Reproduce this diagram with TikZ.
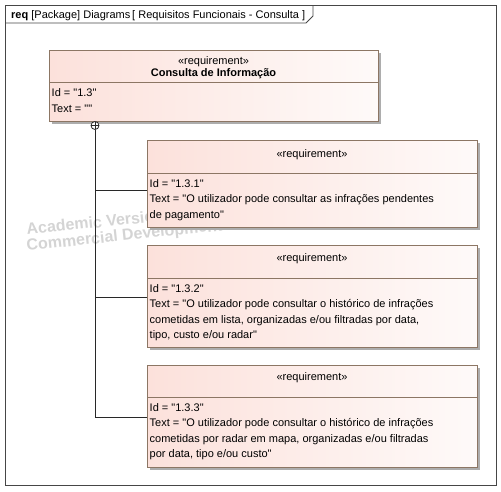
\documentclass[tikz,border=0pt]{standalone}
\usepackage{fontspec}
\setmainfont{Liberation Sans}[Ligatures=TeXOff]
\usetikzlibrary{shadows}
\definecolor{reqborder}{RGB}{140,118,100}
\definecolor{reqleft}{RGB}{252,225,219}
\definecolor{reqright}{RGB}{254,250,249}
\definecolor{framecol}{RGB}{70,70,70}
\definecolor{wmark}{RGB}{212,212,212}
\definecolor{conncol}{RGB}{40,40,40}
\begin{document}
\begin{tikzpicture}[x=1pt,y=-1pt,
  every node/.style={font=\fontsize{11}{15.5}\selectfont, inner sep=0pt},
  reqbox/.style={draw=reqborder, line width=0.9pt, left color=reqleft, right color=reqright,
    anchor=north west, minimum width=330, drop shadow={shadow xshift=2.5pt, shadow yshift=-2.5pt, fill=black!32, opacity=1}},
  divline/.style={draw=reqborder, line width=0.9pt},
  stereo/.style={anchor=base},
  attrs/.style={anchor=north west, align=left},
  conn/.style={draw=conncol, line width=0.8pt},
  wm/.style={anchor=base west, text=wmark, font=\fontsize{16}{18}\selectfont\bfseries, rotate=6}
]
\useasboundingbox (0,0) rectangle (501,491);
% frame
\draw[framecol, line width=0.9pt] (5,5) rectangle (496,485);
\draw[framecol, line width=0.9pt] (5,23) -- (306,23) -- (313,16) -- (313,5);
\node[anchor=base west] (hdr) at (11,18) {\textbf{req} [Package] Diagrams\,[ Requisitos Funcionais - Consulta ]};
% watermark
\node[wm] (wm1) at (27,235) {Academic Version};
\node[wm] (wm2) at (27,251) {Commercial Development};
% top requirement
\node[reqbox, minimum width=329, minimum height=71] (top) at (49,50) {};
\draw[divline] (49,82) -- (378,82);
\node[stereo] (s0) at (213.5,64) {«requirement»};
\node[stereo, font=\fontsize{11}{15.5}\selectfont\bfseries] (n0) at (213.5,76.5) {Consulta de Informação};
\node[attrs] (a0) at (51.5,88.6) {Id = "1.3"\\Text = ""};
% box 1
\node[reqbox, minimum height=87] (b1) at (147,140) {};
\draw[divline] (147,173) -- (477,173);
\node[stereo] (s1) at (312,157) {«requirement»};
\node[attrs] (a1) at (149.5,179.1) {Id = "1.3.1"\\Text = "O utilizador pode consultar as infrações pendentes\\de pagamento"};
% box 2
\node[reqbox, minimum height=102] (b2) at (147,245) {};
\draw[divline] (147,278) -- (477,278);
\node[stereo] (s2) at (312,261) {«requirement»};
\node[attrs] (a2) at (149.5,284.1) {Id = "1.3.2"\\Text = "O utilizador pode consultar o histórico de infrações\\cometidas em lista, organizadas e/ou filtradas por data,\\tipo, custo e/ou radar"};
% box 3
\node[reqbox, minimum height=102] (b3) at (147,365) {};
\draw[divline] (147,397) -- (477,397);
\node[stereo] (s3) at (312,380) {«requirement»};
\node[attrs] (a3) at (149.5,403.1) {Id = "1.3.3"\\Text = "O utilizador pode consultar o histórico de infrações\\cometidas por radar em mapa, organizadas e/ou filtradas\\por data, tipo e/ou custo"};
% containment
\node[draw=conncol, fill=white, circle, minimum size=8, line width=0.8pt,
  path picture={\draw[conncol, line width=0.8pt] (path picture bounding box.north) -- (path picture bounding box.south)
  (path picture bounding box.west) -- (path picture bounding box.east);}] (plus) at (95,125.5) {};
\coordinate (j1) at (147,190.5);
\coordinate (j2) at (147,297);
\coordinate (j3) at (147,417);
\draw[conn] (plus.south) |- (j3);
\draw[conn] (plus.south |- j1) -- (j1);
\draw[conn] (plus.south |- j2) -- (j2);
\end{tikzpicture}
\end{document}
